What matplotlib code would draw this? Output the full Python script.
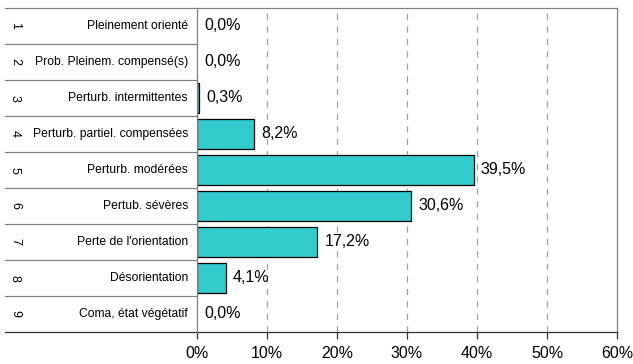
import matplotlib
matplotlib.use("Agg")
import matplotlib.pyplot as plt

numbers = ["1", "2", "3", "4", "5", "6", "7", "8", "9"]
categories = ["Pleinement orienté", "Prob. Pleinem. compensé(s)", "Perturb. intermittentes",
              "Perturb. partiel. compensées", "Perturb. modérées", "Pertub. sévères",
              "Perte de l'orientation", "Désorientation", "Coma, état végétatif"]
values = [0.0, 0.0, 0.3, 8.2, 39.5, 30.6, 17.2, 4.1, 0.0]
xticks = [0, 10, 20, 30, 40, 50, 60]
xticklabels = ["0%", "10%", "20%", "30%", "40%", "50%", "60%"]

plt.rcParams['font.family'] = ['Liberation Sans', 'DejaVu Sans']

W, H = 633, 364
fig = plt.figure(figsize=(W / 100, H / 100), dpi=100)
L, R, T, B = 197, 617, 8, 332
ax = fig.add_axes([L / W, 1 - B / H, (R - L) / W, (B - T) / H])

n = len(values)
ypos = list(range(n))
ax.set_xlim(0, 60)
ax.set_ylim(n - 0.5, -0.5)

for x in xticks[1:-1]:
    ax.axvline(x, color="#a0a0a0", lw=0.9, ls=(0, (5, 5)), zorder=1)

ax.barh(ypos, values, height=0.83, color="#33CCCC", edgecolor="black",
        linewidth=[0.9 if v > 0 else 0 for v in values], zorder=3)

for y, v in zip(ypos, values):
    ax.text(v + 1.0, y, f"{v:.1f}%".replace(".", ","), va="center", ha="left",
            fontsize=11.5, zorder=4)

for s in ["top", "right", "left"]:
    ax.spines[s].set_color("#808080")
    ax.spines[s].set_linewidth(0.9)
ax.spines["bottom"].set_color("#303030")
ax.spines["bottom"].set_linewidth(0.9)
ax.spines["left"].set_zorder(5)

ax.set_xticks(xticks)
ax.set_xticklabels(xticklabels, fontsize=11.5)
ax.tick_params(axis="x", length=5, width=0.9, color="#303030", pad=5, direction="out")
ax.set_yticks([])

xl = (5 - L) / (R - L)
trans = ax.get_yaxis_transform()
# left table lines
for k in range(n + 1):
    yb = k - 0.5
    col = "#303030" if k == n else "#808080"
    ax.plot([xl, 0], [yb, yb], transform=trans, color=col, lw=0.9, clip_on=False)
xnum = (15 - L) / (R - L)
xcat = (188 - L) / (R - L)
for y, num, cat in zip(ypos, numbers, categories):
    ax.text(xnum, y, num, transform=trans, rotation=270, ha="center", va="center", fontsize=9)
    ax.text(xcat, y, cat, transform=trans, ha="right", va="center", fontsize=8.7)

fig.savefig("out.png", dpi=100)
